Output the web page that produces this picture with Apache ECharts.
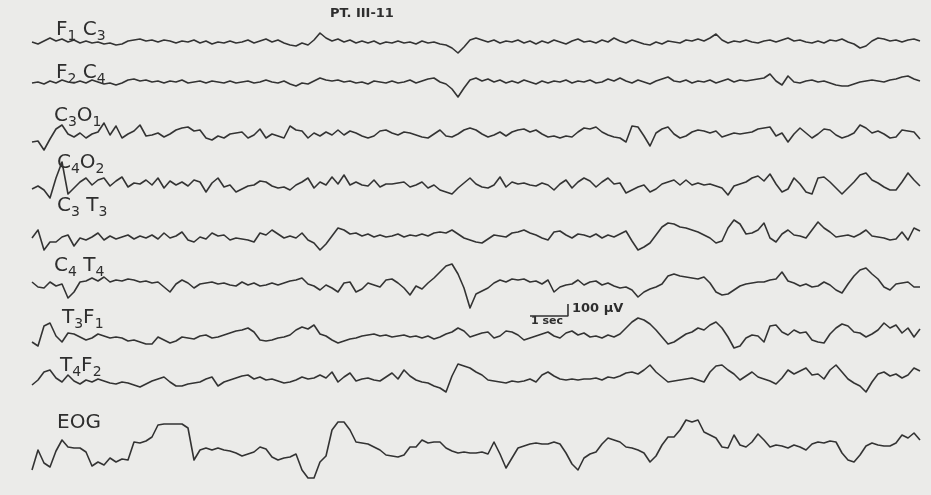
<!DOCTYPE html>
<html>
<head>
<meta charset="utf-8">
<script src="https://cdn.jsdelivr.net/npm/echarts@6/dist/echarts.min.js"></script>
<style>
html,body{margin:0;padding:0;background:#ebebe9;}
#chart{width:931px;height:495px;}
</style>
</head>
<body>
<div id="chart"></div>
<script>
// ---- DATA (amplitude, arbitrary units; 12 units = 100 µV; one sample every ~0.16 s) ----
const titleText = 'PT. III-11';
const channelNames = ['F1C3','F2C4','C3O1','C4O2','C3T3','C4T4','T3F1','T4F2','EOG'];
const channelLabels = ['{m|F}{s|1}{m| C}{s|3}','{m|F}{s|2}{m| C}{s|4}','{m|C}{s|3}{m|O}{s|1}','{m|C}{s|4}{m|O}{s|2}',
  '{m|C}{s|3}{m| T}{s|3}','{m|C}{s|4}{m| T}{s|4}','{m|T}{s|3}{m|F}{s|1}','{m|T}{s|4}{m|F}{s|2}','{m|EOG}'];

const F1C3 = [
0,-2,1,4,1,3,0,2,-1,1,
-1,0,-2,-1,-3,-2,1,2,3,1,
2,0,2,1,-1,1,0,2,-1,1,
-2,0,-1,1,-1,0,2,-1,1,3,
0,2,-1,-3,-4,-1,-3,2,9,4,
1,3,0,2,-1,1,-1,1,-2,0,
-1,1,-1,0,-2,1,-1,0,-2,-3,
-6,-11,-5,2,4,2,0,2,-1,1,
0,2,-1,1,-2,1,-1,2,0,-2,
1,3,0,1,-1,2,0,4,1,-1,
2,0,-2,-3,0,-2,1,0,-1,2,
1,3,1,4,8,2,-1,1,0,2,
0,-1,1,2,0,2,4,1,2,0,
-1,1,-1,2,1,3,0,-2,-6,-4,
1,4,3,1,2,0,2,3,1];

const F2C4 = [
-1,0,-2,1,-1,2,0,-1,1,-1,
2,0,-2,-1,-3,-1,2,3,1,2,
0,1,-1,1,0,2,-1,0,1,-1,
1,0,-1,1,-1,0,1,-1,0,2,
0,-1,1,-2,-4,-1,-2,1,4,2,
1,2,0,1,-1,0,-2,1,0,-1,
1,-1,0,2,-1,1,3,4,0,-2,
-7,-15,-6,2,4,1,3,0,2,-1,
1,-1,2,0,-2,1,-1,1,0,2,
-1,1,0,2,-1,0,3,1,4,1,
-1,2,0,-2,1,3,5,1,0,2,
-1,1,0,2,-1,1,3,0,2,1,
2,3,4,8,1,-3,6,0,-1,1,
2,0,1,-1,-3,-4,-4,-2,0,1,
2,1,0,2,3,5,6,3,1];

const C3O1 = [
-8,-7,-16,-5,5,9,0,-3,1,-4,
0,2,11,-1,8,-4,0,3,9,-2,
-1,1,-3,0,4,6,7,3,4,-4,
-6,-2,-4,0,1,2,-4,-1,5,-4,
0,-2,-4,8,4,3,-4,1,-2,2,
-1,4,-1,3,1,-2,-4,-2,3,4,
1,-1,2,1,-1,-3,-4,0,4,-2,
-3,0,4,6,4,0,-3,-1,2,-2,
2,4,5,2,4,0,-3,-2,-4,-2,
-3,2,6,5,7,2,-1,-3,-4,-8,
8,7,-2,-12,1,5,7,0,-4,-2,
2,4,3,1,3,-3,-1,1,0,1,
2,5,6,7,-2,1,-8,0,6,1,
-4,0,5,4,-1,-4,-2,1,9,6,
1,3,0,-4,-3,4,3,2,-5];

const C4O2 = [
-5,-2,-6,-14,6,22,-10,-4,2,6,
-1,4,6,-2,3,7,-3,1,0,4,
-1,6,-4,3,-1,2,-2,4,2,-8,
1,6,-3,-1,-8,-5,-2,-1,3,2,
-2,-4,-3,-6,-1,2,6,-4,2,-1,
7,0,9,-1,2,-1,-2,4,-3,0,
0,1,2,-3,-1,2,-4,-1,-6,-8,
-10,-4,1,6,0,-3,-4,-1,7,-3,
2,0,1,-1,-2,1,-1,-6,0,4,
-4,2,6,3,-3,2,6,0,1,-9,
-6,-3,-1,-8,-5,0,2,4,-1,4,
-1,1,-1,0,-2,-4,-11,-2,0,2,
6,8,3,10,0,-8,-5,6,0,-8,
-10,6,7,2,-4,-10,-4,2,9,11,
4,1,-3,-6,-6,2,11,4,-2];

const C3T3 = [
0,8,-12,-4,-4,1,3,-8,0,-2,
1,5,-2,2,-1,1,3,-1,2,0,
3,-1,5,0,2,6,-2,-4,1,-1,
5,2,3,-2,0,-1,-2,-4,5,3,
8,4,0,2,0,5,-2,-5,-12,-6,
2,10,8,4,5,2,4,1,3,1,
2,4,1,3,2,4,2,5,6,5,
8,4,0,-2,-4,-5,-1,3,2,1,
5,6,8,5,3,0,-2,6,7,3,
0,4,3,1,4,0,3,1,4,7,
-3,-12,-9,-5,3,11,15,14,11,10,
8,6,3,0,-5,-3,10,18,14,4,
5,8,15,0,-4,4,8,3,2,0,
8,16,10,6,1,2,3,1,4,8,
2,1,0,-2,-1,6,-2,10,7];

const C4T4 = [
4,-1,-2,4,0,2,-12,-6,4,5,
8,5,9,4,6,5,7,6,4,5,
3,4,-1,-6,2,6,3,-2,2,3,
4,2,3,1,0,4,1,3,0,1,
3,1,3,5,6,8,2,0,-4,1,
-2,-6,3,4,-6,-3,3,1,-1,6,
7,3,-2,-9,0,-3,3,8,14,20,
22,12,-2,-22,-8,-5,-2,3,6,4,
7,6,7,4,5,2,6,-6,-1,1,
2,6,1,4,5,1,3,0,-2,-1,
-4,-11,-6,-3,-1,2,10,12,10,9,
8,7,9,3,-6,-9,-8,-4,0,2,
3,4,4,6,7,14,5,3,0,2,
-1,0,4,1,-4,-7,2,10,16,18,
12,7,-1,-4,2,3,4,-1,-1];

const T3F1 = [
-4,-8,12,15,2,-4,5,4,1,-2,
0,4,2,0,1,0,-3,-2,-4,-6,
-6,1,-2,-5,-3,1,0,-1,2,3,
0,1,3,5,7,8,10,6,-2,-3,
-2,0,1,3,8,11,9,13,4,2,
-2,-5,-3,-1,0,2,3,4,2,3,
1,2,3,1,2,0,2,-1,1,4,
6,10,7,1,3,5,6,0,2,7,
6,3,-2,0,2,4,6,2,0,5,
7,3,5,1,2,0,3,1,4,10,
16,20,18,14,8,1,-6,-4,0,4,
6,10,8,13,16,10,1,-10,-8,0,
3,2,-4,12,13,6,3,8,5,6,
-2,-4,-5,4,10,14,12,6,5,1,
4,8,15,10,13,5,10,1,9];

const T4F2 = [
-5,0,8,10,2,-2,5,-1,-4,0,
-2,1,-1,-3,-4,-2,-3,-5,-7,-4,
-1,1,3,-2,-6,-6,-4,-3,-2,1,
3,-6,-2,0,2,4,5,1,3,0,
1,-1,-3,-2,0,3,1,2,5,2,
8,-2,3,7,-1,1,2,0,-1,3,
7,1,10,4,0,-2,-3,-6,-8,-12,
4,16,14,12,8,5,0,-1,-2,-3,
-1,-2,-1,1,-2,5,8,4,1,0,
1,0,1,1,2,0,3,2,4,7,
8,6,10,15,8,3,-2,-1,0,1,
2,0,-2,8,14,15,10,6,0,4,
8,3,1,-1,-4,2,10,6,9,12,
5,6,1,10,15,8,1,-3,-6,-12,
-2,6,8,4,6,2,5,12,9];

const EOG = [
-20,0,-13,-17,-1,10,3,2,2,-2,
-16,-12,-15,-8,-12,-9,-10,8,7,9,
13,25,26,26,26,26,22,-10,0,2,
0,2,0,-1,-3,-6,-4,-2,3,1,
-7,-10,-8,-7,-4,-20,-28,-28,-12,-6,
20,28,28,20,8,7,6,3,0,-5,
-6,-7,-5,3,3,10,7,8,8,2,
-1,-3,-2,-3,-3,-2,-4,8,-4,-18,
-8,2,4,6,7,6,6,8,6,-3,
-14,-20,-8,-4,-2,6,12,10,8,3,
2,0,-3,-12,-6,5,13,13,20,30,
28,30,18,15,12,3,2,15,5,3,
8,16,10,3,5,4,2,5,3,0,
6,8,7,9,8,-3,-10,-12,-5,4,
7,5,4,4,7,15,12,17,10];

const channelData = [F1C3, F2C4, C3O1, C4O2, C3T3, C4T4, T3F1, T4F2, EOG];

// calibration bar (sample index, amplitude) drawn on the T3F1 axes
const calX = [83, 89.33, 89.33];
const calY = [22, 22, 34];
const calLabelV = '100 µV';
const calLabelT = '1 sec';

// ---- LAYOUT ----
const baselines = [42, 82, 134, 184, 238, 286, 338, 380, 450];
const labelPos = [[56,20],[56,63],[54,106],[57,153],[57,196],[54,256],[62,308],[60,356],[57,413]];
const HALF = 40;
const INK = '#333333';

const grids = [], xAxes = [], yAxes = [], series = [];
channelData.forEach((arr, i) => {
  grids.push({left: 32, width: 888, top: baselines[i] - HALF, height: HALF * 2});
  xAxes.push({type: 'value', gridIndex: i, min: 0, max: 148, show: false});
  yAxes.push({type: 'value', gridIndex: i, min: -HALF, max: HALF, show: false});
  series.push({
    name: channelNames[i], type: 'line', xAxisIndex: i, yAxisIndex: i,
    data: arr.map((v, j) => [j, v]), showSymbol: false, symbol: 'none',
    clip: false, silent: true,
    lineStyle: {color: INK, width: 1.6, join: 'round'}
  });
});
series.push({
  name: 'calibration', type: 'line', xAxisIndex: 6, yAxisIndex: 6,
  data: calX.map((x, k) => [x, calY[k]]), showSymbol: false, symbol: 'none',
  clip: false, silent: true, lineStyle: {color: INK, width: 1.6}
});

const graphics = channelLabels.map((t, i) => ({
  type: 'text', left: labelPos[i][0], top: labelPos[i][1], silent: true,
  style: {
    text: t, fill: '#2e2e2e',
    rich: {
      m: {fontSize: 20, lineHeight: 22, fontFamily: 'DejaVu Sans', verticalAlign: 'top', fill: '#2e2e2e'},
      s: {fontSize: 14, lineHeight: 14, fontFamily: 'DejaVu Sans', padding: [9, 0, 0, 0], verticalAlign: 'top', fill: '#2e2e2e'}
    }
  }
}));
graphics.push({type: 'text', left: 330, top: 7, silent: true,
  style: {text: titleText, fill: '#2e2e2e', font: 'bold 13px "DejaVu Sans"'}});
graphics.push({type: 'text', left: 572, top: 302, silent: true,
  style: {text: calLabelV, fill: '#2e2e2e', font: 'bold 13px "DejaVu Sans"'}});
graphics.push({type: 'text', left: 531, top: 316, silent: true,
  style: {text: calLabelT, fill: '#2e2e2e', font: 'bold 11px "DejaVu Sans"'}});

const chart = echarts.init(document.getElementById('chart'), null, {renderer: 'canvas'});
chart.setOption({
  backgroundColor: '#ebebe9',
  animation: false,
  grid: grids, xAxis: xAxes, yAxis: yAxes,
  series: series,
  graphic: graphics
});
</script>
</body>
</html>
